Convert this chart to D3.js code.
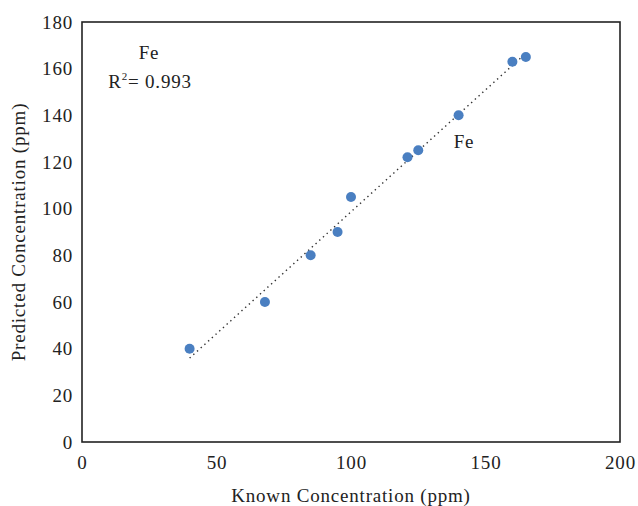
<!DOCTYPE html>
<html>
<head>
<meta charset="utf-8">
<script src="https://cdn.jsdelivr.net/npm/d3@7"></script>
<style>
body { margin: 0; background: #fff; }
text { font-family: "Liberation Serif", "DejaVu Serif", serif; fill: #222; letter-spacing: 0.8px; }
</style>
</head>
<body>
<div id="chart"></div>
<script>
// data
var known = [40, 68, 85, 95, 100, 121, 125, 140, 160, 165];
var predicted = [40, 60, 80, 90, 105, 122, 125, 140, 163, 165];
var xticks = [0, 50, 100, 150, 200];
var yticks = [0, 20, 40, 60, 80, 100, 120, 140, 160, 180];

var W = 638, H = 506;
var margin = {top: 22, right: 18, bottom: 64, left: 82};
var width = W - margin.left - margin.right;
var height = H - margin.top - margin.bottom;
var fs = "19px";

var svg = d3.select("#chart").append("svg")
	.attr("width", W)
	.attr("height", H);

var g = svg.append("g")
	.attr("transform", "translate(" + margin.left + "," + margin.top + ")");

var xscale = d3.scaleLinear().domain([0, 200]).range([0, width]);
var yscale = d3.scaleLinear().domain([0, 180]).range([height, 0]);

// axes, no tick marks
var xaxis = d3.axisBottom(xscale).tickValues(xticks).tickSize(0).tickPadding(14);
var yaxis = d3.axisLeft(yscale).tickValues(yticks).tickSize(0).tickPadding(9);

g.append("g")
	.attr("transform", "translate(0," + height + ")")
	.call(xaxis)
	.call(function(s){ s.select(".domain").remove(); })
	.selectAll("text").style("font-size", fs).attr("fill", "#222");

g.append("g")
	.call(yaxis)
	.call(function(s){ s.select(".domain").remove(); })
	.selectAll("text").style("font-size", fs).attr("fill", "#222");

// frame
g.append("rect")
	.attr("x", 0).attr("y", 0)
	.attr("width", width).attr("height", height)
	.attr("fill", "none")
	.attr("stroke", "#222")
	.attr("stroke-width", 1.6);

// linear trendline
var n = known.length;
var mx = d3.mean(known), my = d3.mean(predicted);
var sxy = 0, sxx = 0;
for (var i = 0; i < n; i++) {
	sxy += (known[i] - mx) * (predicted[i] - my);
	sxx += (known[i] - mx) * (known[i] - mx);
}
var slope = sxy / sxx;
var icpt = my - slope * mx;
var xext = d3.extent(known);

g.append("line")
	.attr("x1", xscale(xext[0])).attr("y1", yscale(icpt + slope * xext[0]))
	.attr("x2", xscale(xext[1])).attr("y2", yscale(icpt + slope * xext[1]))
	.attr("stroke", "#333")
	.attr("stroke-width", 1.4)
	.attr("stroke-dasharray", "1.4,3.6");

// points
var pts = known.map(function(k, i){ return {x: k, y: predicted[i]}; });
g.selectAll("circle.pt")
	.data(pts)
	.enter().append("circle")
	.attr("class", "pt")
	.attr("cx", function(d){ return xscale(d.x); })
	.attr("cy", function(d){ return yscale(d.y); })
	.attr("r", 5)
	.attr("fill", "#4a7fc1");

// annotations
g.append("text")
	.attr("x", 67).attr("y", 37)
	.attr("text-anchor", "middle")
	.style("font-size", fs)
	.text("Fe");

var r2 = g.append("text")
	.attr("x", 68).attr("y", 66)
	.attr("text-anchor", "middle")
	.style("font-size", fs);
r2.append("tspan").text("R");
r2.append("tspan").attr("dy", -8).style("font-size", "11px").text("2");
r2.append("tspan").attr("dy", 8).text("= 0.993");

g.append("text")
	.attr("x", 382).attr("y", 126)
	.attr("text-anchor", "middle")
	.style("font-size", fs)
	.text("Fe");

// axis titles
svg.append("text")
	.attr("x", margin.left + width / 2)
	.attr("y", 502)
	.attr("text-anchor", "middle")
	.style("font-size", fs)
	.text("Known Concentration (ppm)");

svg.append("text")
	.attr("transform", "translate(25," + (margin.top + height / 2) + ") rotate(-90)")
	.attr("text-anchor", "middle")
	.style("font-size", fs)
	.text("Predicted Concentration (ppm)");
</script>
</body>
</html>
